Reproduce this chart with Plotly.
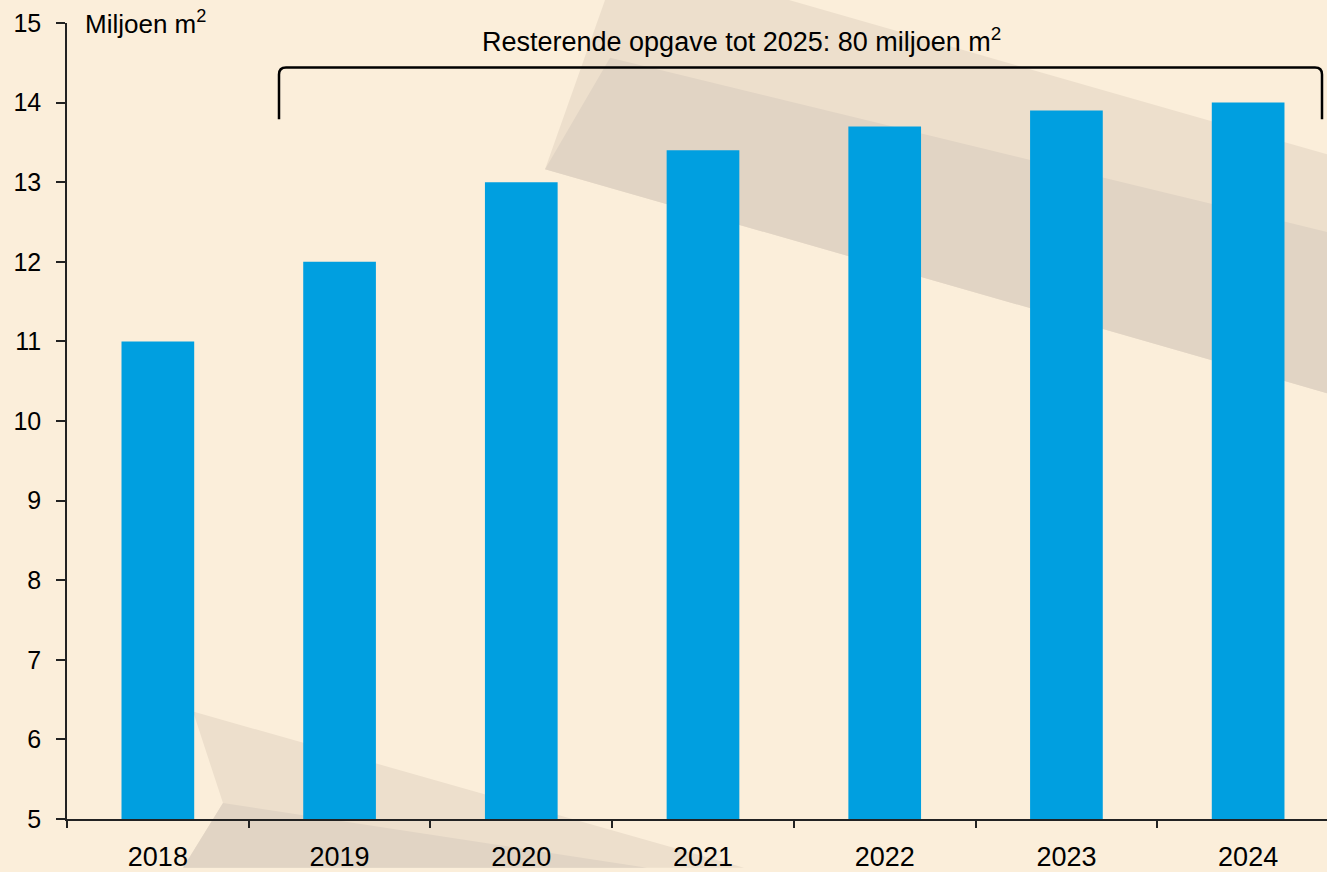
import plotly.graph_objects as go

years = ["2018", "2019", "2020", "2021", "2022", "2023", "2024"]
oppervlak = [11.0, 12.0, 13.0, 13.4, 13.7, 13.9, 14.0]
y_ticks = list(range(5, 16))

unit_label = "Miljoen m<sup>2</sup>"
bracket_label = "Resterende opgave tot 2025: 80 miljoen m<sup>2</sup>"

W, H = 1327, 872
L, T, B = 67, 23, 49
PW, PH = W - L, H - T - B

BLUE = "#009FE0"
CREAM = "#FBEEDA"
TAN = "#EDDFCC"
TAN_DARK = "#E1D4C4"
FONT = "Liberation Sans, Arial, sans-serif"


def px(x, y):
    # pixel position on the page -> paper coordinates
    return (x - L) / PW, (H - B - y) / PH


def poly(points):
    pts = [px(x, y) for x, y in points]
    return "M " + " L ".join(f"{a:.4f},{b:.4f}" for a, b in pts) + " Z"


fig = go.Figure(
    go.Bar(
        x=years,
        y=oppervlak,
        width=0.4,
        marker=dict(color=BLUE, line=dict(width=0)),
        hoverinfo="x+y",
    )
)

# decorative background arrows
deco = [
    ([(605, 0), (789, 0), (1327, 155), (1327, 395), (545, 170)], TAN),
    ([(610, 58), (1327, 233), (1327, 395), (545, 170)], TAN_DARK),
    ([(193, 715), (744, 872), (183, 872), (223, 807)], TAN),
    ([(223, 807), (647, 872), (183, 872)], TAN_DARK),
]
for pts, col in deco:
    fig.add_shape(
        type="path", path=poly(pts), xref="paper", yref="paper",
        fillcolor=col, line=dict(width=0), layer="below",
    )

# bracket over 2019-2024
x0, _ = px(279, 0)
x1, _ = px(1322, 0)
rx = 7 / PW
ry = 7 / (PH / 10)
ytop, ybot = 14.44, 13.79
bracket = (
    f"M {x0},{ybot} L {x0},{ytop - ry} Q {x0},{ytop} {x0 + rx},{ytop} "
    f"L {x1 - rx},{ytop} Q {x1},{ytop} {x1},{ytop - ry} L {x1},{ybot}"
)
fig.add_shape(
    type="path", path=bracket, xref="paper", yref="y",
    line=dict(color="#000000", width=2.5), layer="above",
)

ax, ay = px(83, 22)
fig.add_annotation(
    text=unit_label, x=ax, y=ay, xref="paper", yref="paper",
    xanchor="left", yanchor="middle", showarrow=False,
    font=dict(size=26, color="#000000", family=FONT),
)
bx, by = px(741, 40)
fig.add_annotation(
    text=bracket_label, x=bx, y=by, xref="paper", yref="paper",
    xanchor="center", yanchor="middle", showarrow=False,
    font=dict(size=27, color="#000000", family=FONT),
)

fig.update_layout(
    width=W,
    height=H,
    margin=dict(l=L, r=0, t=T, b=B, pad=0),
    paper_bgcolor=CREAM,
    plot_bgcolor="rgba(0,0,0,0)",
    showlegend=False,
    font=dict(family=FONT, size=25, color="#000000"),
    xaxis=dict(
        type="category",
        range=[-0.5, 6.434],
        tickson="boundaries",
        ticks="outside",
        ticklen=7,
        tickwidth=1.5,
        tickcolor="#222222",
        showline=True,
        linecolor="#222222",
        linewidth=1.5,
        showgrid=False,
        ticklabelstandoff=13,
        tickfont=dict(size=27),
    ),
    yaxis=dict(
        range=[5, 15],
        tickvals=y_ticks,
        ticks="outside",
        ticklen=9,
        tickwidth=1.5,
        tickcolor="#222222",
        showline=True,
        linecolor="#222222",
        linewidth=1.5,
        showgrid=False,
        zeroline=False,
        ticklabelstandoff=10,
        tickfont=dict(size=25),
    ),
)

fig.write_html(
    "out.html",
    config={"displayModeBar": False},
    post_script="document.body.style.margin = '0';",
)
